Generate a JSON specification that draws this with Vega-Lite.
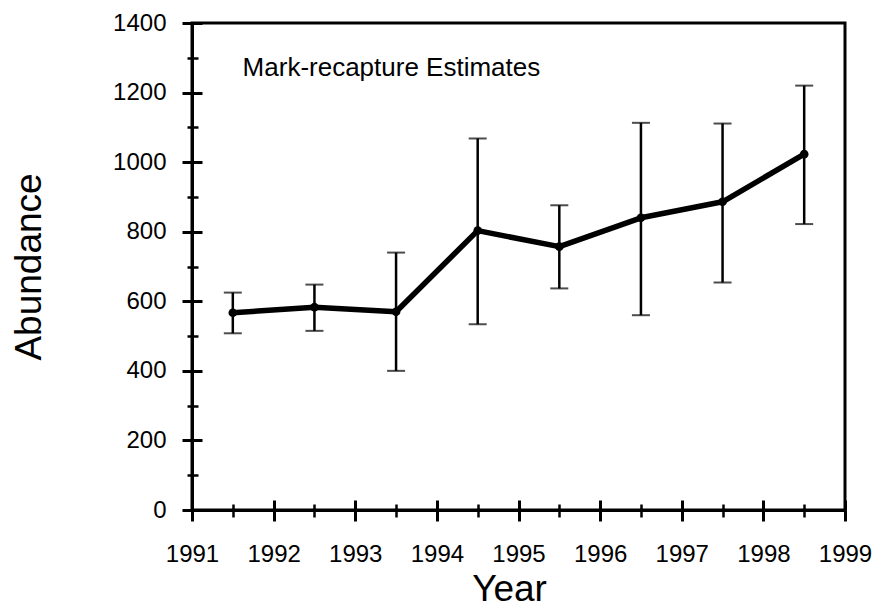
{
  "$schema": "https://vega.github.io/schema/vega-lite/v6.json",
  "autosize": "none",
  "width": 653,
  "height": 487,
  "padding": {"left": 192, "top": 23, "right": 27, "bottom": 99},
  "background": "white",
  "config": {
    "view": {"stroke": "black", "strokeWidth": 3},
    "axis": {
      "grid": false,
      "domainColor": "black",
      "domainWidth": 3,
      "tickColor": "black",
      "tickWidth": 3,
      "labelFont": "Liberation Sans",
      "labelColor": "black",
      "labelFontSize": 24,
      "labelOverlap": false,
      "labelFlush": false,
      "titleFont": "Liberation Sans",
      "titleFontWeight": "normal",
      "titleColor": "black",
      "titleFontSize": 37
    }
  },
  "data": {
    "values": [
      {"t": 1991.5, "est": 567, "lo": 508, "hi": 625},
      {"t": 1992.5, "est": 583, "lo": 515, "hi": 648},
      {"t": 1993.5, "est": 570, "lo": 400, "hi": 740},
      {"t": 1994.5, "est": 803, "lo": 534, "hi": 1068},
      {"t": 1995.5, "est": 757, "lo": 637, "hi": 876},
      {"t": 1996.5, "est": 840, "lo": 560, "hi": 1113},
      {"t": 1997.5, "est": 886, "lo": 654, "hi": 1111},
      {"t": 1998.5, "est": 1023, "lo": 822, "hi": 1220}
    ]
  },
  "resolve": {"axis": {"x": "independent", "y": "independent"}},
  "layer": [
    {
      "mark": {"type": "rule", "color": "black", "strokeWidth": 2.5},
      "encoding": {
        "x": {"field": "t", "type": "quantitative",
          "scale": {"domain": [1991, 1999], "nice": false, "zero": false},
          "axis": {"orient": "bottom", "values": [1991, 1992, 1993, 1994, 1995, 1996, 1997, 1998, 1999], "format": "d", "tickSize": 11, "labelPadding": 21, "title": "Year", "titleX": 317, "titleY": 90, "titleBaseline": "alphabetic", "titleAlign": "center"}},
        "y": {"field": "lo", "type": "quantitative",
          "scale": {"domain": [0, 1400], "nice": false},
          "axis": {"orient": "left", "values": [0, 200, 400, 600, 800, 1000, 1200, 1400], "format": "d", "tickSize": 10, "labelPadding": 16, "title": "Abundance", "titlePadding": 64}},
        "y2": {"field": "hi"}
      }
    },
    {
      "mark": {"type": "tick", "orient": "horizontal", "size": 18, "thickness": 2, "color": "black"},
      "encoding": {
        "x": {"field": "t", "type": "quantitative", "axis": null},
        "y": {"field": "lo", "type": "quantitative", "axis": null}
      }
    },
    {
      "mark": {"type": "tick", "orient": "horizontal", "size": 18, "thickness": 2, "color": "black"},
      "encoding": {
        "x": {"field": "t", "type": "quantitative", "axis": null},
        "y": {"field": "hi", "type": "quantitative", "axis": null}
      }
    },
    {
      "mark": {"type": "line", "color": "black", "strokeWidth": 5.5, "strokeJoin": "round",
        "point": {"filled": true, "size": 75, "color": "black"}},
      "encoding": {
        "x": {"field": "t", "type": "quantitative", "axis": null},
        "y": {"field": "est", "type": "quantitative", "axis": null}
      }
    },
    {
      "mark": {"type": "point", "opacity": 0},
      "encoding": {
        "x": {"field": "t", "type": "quantitative",
          "axis": {"orient": "bottom", "values": [1991, 1992, 1993, 1994, 1995, 1996, 1997, 1998, 1999], "tickSize": -10, "labels": false, "domain": false, "title": null}},
        "y": {"field": "est", "type": "quantitative",
          "axis": {"orient": "left", "values": [0, 200, 400, 600, 800, 1000, 1200, 1400], "tickSize": -10, "labels": false, "domain": false, "title": null}}
      }
    },
    {
      "mark": {"type": "point", "opacity": 0},
      "encoding": {
        "x": {"field": "t", "type": "quantitative",
          "axis": {"orient": "bottom", "values": [1991.5, 1992.5, 1993.5, 1994.5, 1995.5, 1996.5, 1997.5, 1998.5], "tickSize": 7, "tickWidth": 2.5, "labels": false, "domain": false, "title": null}},
        "y": {"field": "est", "type": "quantitative",
          "axis": {"orient": "left", "values": [100, 300, 500, 700, 900, 1100, 1300], "tickSize": 5, "tickWidth": 2.5, "labels": false, "domain": false, "title": null}}
      }
    },
    {
      "mark": {"type": "point", "opacity": 0},
      "encoding": {
        "x": {"field": "t", "type": "quantitative",
          "axis": {"orient": "bottom", "values": [1991.5, 1992.5, 1993.5, 1994.5, 1995.5, 1996.5, 1997.5, 1998.5], "tickSize": -6, "tickWidth": 2.5, "labels": false, "domain": false, "title": null}},
        "y": {"field": "est", "type": "quantitative",
          "axis": {"orient": "left", "values": [100, 300, 500, 700, 900, 1100, 1300], "tickSize": -6, "tickWidth": 2.5, "labels": false, "domain": false, "title": null}}
      }
    },
    {
      "data": {"values": [{"label": "Mark-recapture Estimates"}]},
      "mark": {"type": "text", "align": "left", "baseline": "alphabetic", "font": "Liberation Sans", "fontSize": 26, "color": "black"},
      "encoding": {
        "x": {"datum": 1991.62, "type": "quantitative", "axis": null},
        "y": {"datum": 1248, "type": "quantitative", "axis": null},
        "text": {"field": "label", "type": "nominal"}
      }
    }
  ]
}
